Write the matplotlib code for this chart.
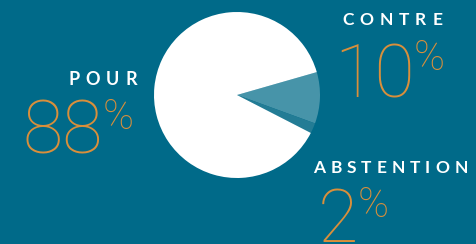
import matplotlib
matplotlib.use("Agg")
import matplotlib.pyplot as plt

# data
labels = ["CONTRE", "ABSTENTION", "POUR"]
values = [10, 2, 88]
slice_colors = ["#4794a9", "#237c95", "#ffffff"]

bg = "#006a89"
orange = "#d98f3b"

W, H = 476, 244
fig = plt.figure(figsize=(W / 100, H / 100), dpi=100, facecolor=bg)

# overlay axes in pixel coords (y down) for the text
tx = fig.add_axes([0, 0, 1, 1])
tx.set_xlim(0, W)
tx.set_ylim(H, 0)
tx.axis("off")

# pie
cx, cy, r = 237, 95, 83
pa = fig.add_axes([(cx - r) / W, (H - cy - r) / H, 2 * r / W, 2 * r / H])
pa.pie(values, colors=slice_colors, startangle=16, counterclock=False,
       wedgeprops=dict(linewidth=0))
pa.set_xlim(-1, 1)
pa.set_ylim(-1, 1)
pa.set_aspect("equal")
pa.axis("off")

fig.canvas.draw()
rend = fig.canvas.get_renderer()


def spaced(x, y, s, size, track, ha="left"):
    # letter-spaced caps, x is left edge (or right edge when ha='right')
    ws = []
    for ch in s:
        t = tx.text(0, 0, ch, fontsize=size, fontweight="bold", family="Lato")
        ws.append(t.get_window_extent(rend).width)
        t.remove()
    total = sum(ws) + track * (len(s) - 1)
    if ha == "right":
        x = x - total
    for ch, w in zip(s, ws):
        tx.text(x, y, ch, fontsize=size, fontweight="bold", family="Lato",
                color="white", va="baseline")
        x += w + track


def pct(x, y, num, top):
    t = tx.text(x, y, num, fontsize=53, family="Roboto", fontweight="light",
                color=orange, va="baseline", ha="left")
    bb = t.get_window_extent(rend)
    # right edge of the number in data px
    right = tx.transData.inverted().transform((bb.x1, bb.y0))[0]
    tx.text(right - 1, top, "%", fontsize=30, family="Roboto", fontweight="light",
            color=orange, va="top", ha="left")


vals = dict(zip(labels, values))

spaced(137, 85, "POUR", 13, 6, ha="right")
pct(23, 154, str(vals["POUR"]), 97)

spaced(342, 25, "CONTRE", 12.5, 6)
pct(334, 97, str(vals["CONTRE"]), 38)

spaced(313, 173, "ABSTENTION", 12.5, 5)
pct(318, 242, str(vals["ABSTENTION"]), 185)

fig.savefig("out.png", dpi=100, facecolor=bg)
